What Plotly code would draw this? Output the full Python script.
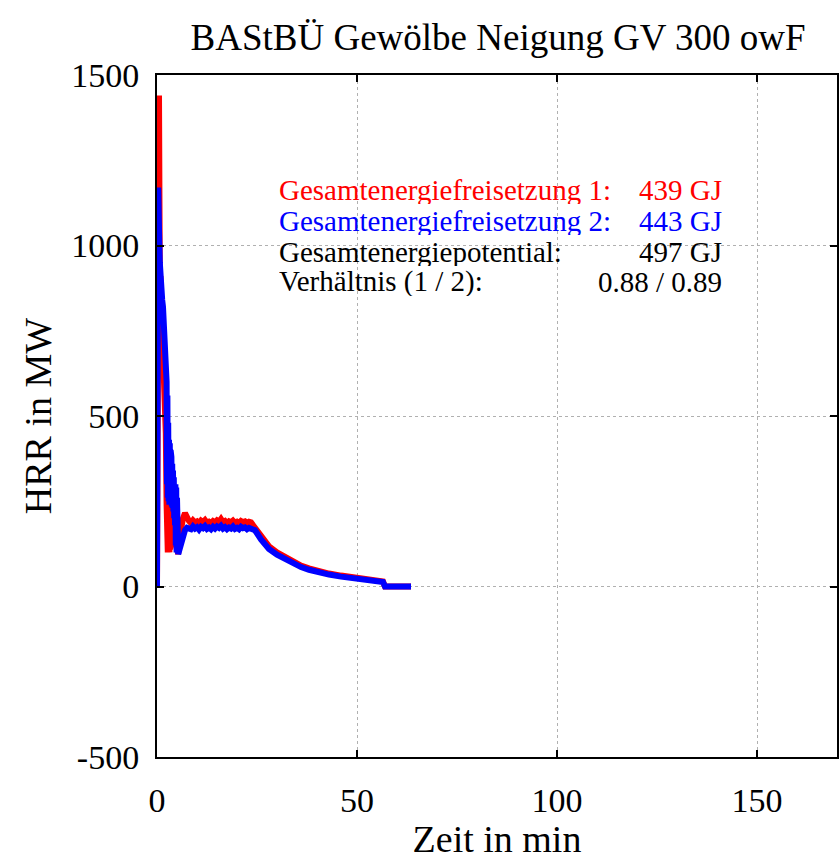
import plotly.graph_objects as go

# ---- data ----
t_red = [0, 0.25, 0.5, 0.7, 0.85, 1.0, 1.2, 1.4, 1.6, 1.8, 2.0, 2.2,
         2.4, 2.5, 2.6, 2.7, 2.8, 2.9, 3.0, 3.1, 3.2, 3.3, 3.4, 3.5, 3.6, 3.7,
         3.8, 3.9, 4.0, 4.1, 4.2, 4.3, 4.4, 4.5, 4.6, 4.7, 4.8, 4.9, 5.0,
         5.3, 5.6, 6.0, 6.5, 7.0, 7.5,
         8.0, 8.5, 9.0, 9.5, 10.0, 10.5, 11.0, 11.5, 12.0, 12.5, 13.0, 13.5, 14.0,
         14.5, 15.0, 15.5, 16.0, 16.5, 17.0, 17.5, 18.0, 18.5, 19.0, 19.5, 20.0,
         20.5, 21.0, 21.5, 22.0, 22.5, 23.0, 23.5,
         24.5, 26, 28, 30, 32, 34, 36, 38, 40, 43, 46, 50, 53, 56.5, 57, 60, 63.5]
hrr_red = [0, 1440, 1440, 900, 910, 850, 780, 700, 650, 640, 600, 450,
           240, 110, 235, 100, 240, 105, 230, 100, 240, 110, 235, 120, 240, 130,
           230, 125, 235, 130, 220, 130, 210, 130, 200, 140, 180, 120, 110,
           95, 140, 170, 200, 215, 200,
           192, 186, 194, 188, 191, 185, 193, 189, 195, 187, 190, 186, 192,
           188, 194, 190, 198, 189, 192, 186, 191, 188, 193, 187, 190,
           186, 192, 189, 191, 186, 190, 188,
           172, 145, 118, 100, 86, 72, 61, 53, 46, 38, 32, 25, 20, 15, 0, 0, 0]

t_blue = [0, 0.3, 0.5, 0.7, 0.9, 1.1, 1.3, 1.5, 1.7, 1.9, 2.1, 2.3,
          2.4, 2.5, 2.6, 2.7, 2.8, 2.9, 3.0, 3.1, 3.2, 3.3, 3.4, 3.5, 3.6, 3.7,
          3.8, 3.9, 4.0, 4.1, 4.2, 4.3, 4.4, 4.5, 4.6, 4.7, 4.8, 4.9, 5.0,
          5.3, 5.6, 6.0, 6.5, 7.0, 7.5,
          8.0, 8.5, 9.0, 9.5, 10.0, 10.5, 11.0, 11.5, 12.0, 12.5, 13.0, 13.5, 14.0,
          14.5, 15.0, 15.5, 16.0, 16.5, 17.0, 17.5, 18.0, 18.5, 19.0, 19.5, 20.0,
          20.5, 21.0, 21.5, 22.0, 22.5, 23.0, 23.5,
          24.5, 26, 28, 30, 32, 34, 36, 38, 40, 43, 46, 50, 53, 56.5, 57, 60, 63.5]
hrr_blue = [0, 1170, 1050, 950, 880, 900, 840, 820, 780, 700, 640, 600,
            600, 300, 560, 260, 480, 250, 430, 240, 420, 240, 400, 240, 380, 235,
            360, 230, 340, 220, 320, 200, 300, 180, 300, 120, 290, 100, 260,
            95, 110, 130, 150, 165, 172,
            172, 168, 176, 170, 174, 167, 175, 171, 177, 169, 173, 168, 175,
            170, 176, 172, 178, 170, 174, 168, 173, 170, 176, 169, 172,
            168, 175, 171, 173, 168, 172, 170,
            165, 138, 110, 93, 80, 67, 57, 49, 42, 35, 29, 23, 18, 13, 0, 0, 0]

title_text = "BAStBÜ Gewölbe Neigung GV 300 owF"
x_ticks = [0, 50, 100, 150]
y_ticks = [-500, 0, 500, 1000, 1500]
info_labels = ["Gesamtenergiefreisetzung 1:", "Gesamtenergiefreisetzung 2:",
               "Gesamtenergiepotential:", "Verhältnis (1 / 2):"]
info_values = ["439 GJ", "443 GJ", "497 GJ", "0.88 / 0.89"]
info_colors = ["#ff0000", "#0000ff", "#000000", "#000000"]

FONT = "Liberation Serif"

fig = go.Figure()
fig.add_trace(go.Scatter(x=t_red, y=hrr_red, mode="lines",
                         line=dict(color="#ff0000", width=6), showlegend=False))
fig.add_trace(go.Scatter(x=t_blue, y=hrr_blue, mode="lines",
                         line=dict(color="#0000ff", width=6), showlegend=False))

W, H = 840, 860
L, R, T, B = 157, 1, 75, 103
pw = W - L - R
ph = H - T - B

def px_to_paper(px, py):
    return (px - L) / pw, (H - B - py) / ph

line_y = [190, 220, 251, 281]
for lab, val, col, py in zip(info_labels, info_values, info_colors, line_y):
    xl, yy = px_to_paper(278, py)
    xr, _ = px_to_paper(725, py)
    fig.add_annotation(x=xl, y=yy, xref="paper", yref="paper", text=lab,
                       showarrow=False, xanchor="left", yanchor="middle",
                       height=29, borderpad=0,
                       font=dict(family=FONT, size=29, color=col))
    fig.add_annotation(x=xr, y=yy, xref="paper", yref="paper", text=val,
                       showarrow=False, xanchor="right", yanchor="middle",
                       height=29, borderpad=0,
                       font=dict(family=FONT, size=29, color=col))

axis_common = dict(showline=True, linecolor="black", linewidth=2, mirror="ticks",
                   ticks="inside", ticklen=7, tickwidth=2, tickcolor="black",
                   showgrid=True, gridcolor="#b0b0b0", gridwidth=1, griddash="dot",
                   zeroline=False, tickfont=dict(family=FONT, size=34, color="black"))

fig.update_xaxes(range=[0, 170], tickvals=x_ticks, ticktext=[str(v) for v in x_ticks],
                 title=dict(text="Zeit in min", font=dict(family=FONT, size=38, color="black"),
                            standoff=14),
                 ticklabelstandoff=12, **axis_common)
fig.update_yaxes(range=[-500, 1500], tickvals=y_ticks, ticktext=[str(v) for v in y_ticks],
                 title=dict(text="HRR in MW", font=dict(family=FONT, size=38, color="black"),
                            standoff=8),
                 ticklabelstandoff=9, **axis_common)

fig.update_layout(
    width=W, height=H,
    margin=dict(l=L, r=R, t=T, b=B, pad=0),
    paper_bgcolor="white", plot_bgcolor="white",
    title=dict(text=title_text, x=(L + pw / 2) / W, xanchor="center",
               y=1 - 37 / H, yanchor="middle",
               font=dict(family=FONT, size=37, color="black")),
    font=dict(family=FONT, color="black"),
)

fig.write_html("out.html")
